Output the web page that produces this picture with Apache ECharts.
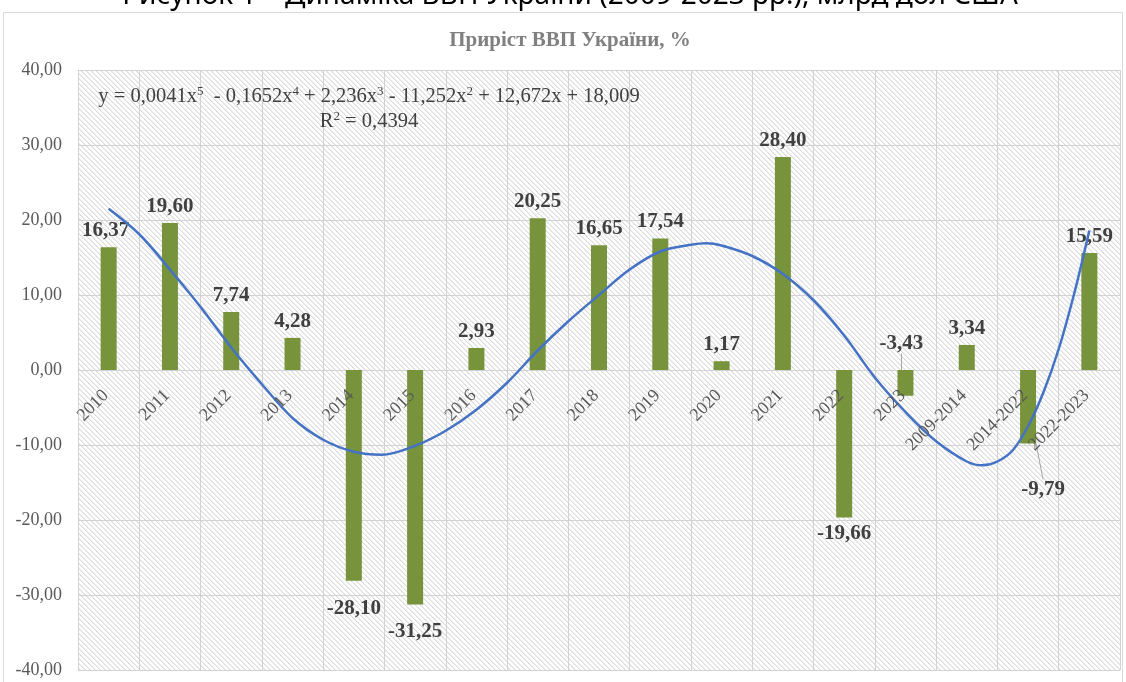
<!DOCTYPE html>
<html><head><meta charset="utf-8">
<script src="https://cdn.jsdelivr.net/npm/echarts@6/dist/echarts.min.js"></script>
<style>html,body{margin:0;padding:0;background:#fff;overflow:hidden}#c{width:1126px;height:682px}</style>
</head><body><div id="c"></div>
<script>
// ---- data ----
const categories = ['2010','2011','2012','2013','2014','2015','2016','2017','2018','2019','2020','2021','2022','2023','2009-2014','2014-2022','2022-2023'];
const growth = [16.37, 19.60, 7.74, 4.28, -28.10, -31.25, 2.93, 20.25, 16.65, 17.54, 1.17, 28.40, -19.66, -3.43, 3.34, -9.79, 15.59];
// polynomial trendline (x = category index, 0 = 2010)
const trendX = [0, 0.5, 1, 1.5, 2, 2.5, 3, 3.5, 4, 4.45, 5, 5.5, 6, 6.5, 7, 7.5, 8, 8.5, 9, 9.5, 9.75, 10, 10.5, 11, 11.5, 12, 12.5, 13, 13.5, 14, 14.25, 14.5, 14.75, 15, 15.25, 15.5, 15.75, 16];
const trendY = [21.5, 18.1, 13.4, 8.4, 3.0, -1.9, -6.4, -9.3, -10.9, -11.3, -10.1, -8.1, -5.3, -1.7, 2.6, 6.5, 10.0, 13.4, 15.8, 16.7, 16.9, 16.6, 15.2, 12.8, 9.3, 4.6, -1.0, -5.6, -9.5, -12.2, -12.7, -12.2, -10.7, -7.5, -3.0, 2.8, 10.1, 18.6];
const yMin = -40, yMax = 40, yStep = 10;
const captionText = 'Рисунок 1 – Динаміка ВВП України (2009-2023 рр.), млрд дол США';
const titleText = 'Приріст ВВП України, %';
const eqText = '{n|y = 0,0041x}{s|5}{n|  - 0,1652x}{s|4}{n| + 2,236x}{s|3}{n| - 11,252x}{s|2}{n| + 12,672x + 18,009}';
const r2Text = '{n|R}{s|2}{n| = 0,4394}';

// ---- label adjustments (style only) ----
const labelDistance = {'2014': 17, '2015': 17};
const labelMoves = {'2010': [-3, 0], '2023': [-4, -69], '2014-2022': [15, 30]};
const leaderLines = {'2023': true, '2014-2022': true};

const fmt = v => v.toFixed(2).replace('.', ',');
const SERIF = "'Liberation Serif', 'Times New Roman', serif";
const GRIDLINE = '#d2d2d2';

// layout
const GRID = {left: 78, right: 6, top: 70, bottom: 12};
const plotH = 682 - GRID.top - GRID.bottom;
// put the category axis on the zero line of the value axis
const zeroOffset = -plotH * (0 - yMin) / (yMax - yMin);

// hatch pattern
const tile = document.createElement('canvas');
tile.width = 10; tile.height = 10;
(function(){
  const ctx = tile.getContext('2d');
  const img = ctx.createImageData(10, 10);
  for (let y = 0; y < 10; y++) for (let x = 0; x < 10; x++) {
    const d = (((x - y) % 5) + 5) % 5;
    const g = d === 0 ? 220 : (d === 1 ? 237 : 255);
    const k = (y * 10 + x) * 4;
    img.data[k] = g; img.data[k+1] = g; img.data[k+2] = g; img.data[k+3] = 255;
  }
  ctx.putImageData(img, 0, 0);
})();

const chart = echarts.init(document.getElementById('c'), null, {renderer: 'canvas'});
const barData = growth.map((v, i) => {
  const c = categories[i];
  const item = {
    value: v,
    label: {position: v >= 0 ? 'top' : 'bottom', distance: labelDistance[c] || 6}
  };
  if (leaderLines[c]) item.labelLine = {show: true, lineStyle: {color: '#a6a6a6', width: 1}};
  return item;
});

const gridBox = Object.assign({containLabel: false, outerBoundsMode: 'none'}, GRID);

chart.setOption({
  animation: false,
  backgroundColor: '#ffffff',
  grid: [
    Object.assign({show: true, borderWidth: 0, backgroundColor: {image: tile, repeat: 'repeat'}}, gridBox),
    Object.assign({show: false}, gridBox)
  ],
  xAxis: [{
    // category axis: zero line + vertical gridlines
    type: 'category', data: categories, gridIndex: 0, position: 'bottom', offset: zeroOffset,
    axisLine: {onZero: false, lineStyle: {color: GRIDLINE, width: 1}},
    axisTick: {show: false, interval: 0},
    splitLine: {show: true, interval: 0, lineStyle: {color: GRIDLINE, width: 1}},
    axisLabel: {show: false, interval: 0}
  }, {
    type: 'value', gridIndex: 1, position: 'top', min: -0.5, max: 16.5, show: false
  }, {
    // category labels, drawn above the bars
    type: 'category', data: categories, gridIndex: 1, position: 'bottom', offset: zeroOffset, zlevel: 1,
    axisLine: {show: false, onZero: false}, axisTick: {show: false}, splitLine: {show: false},
    axisLabel: {interval: 0, rotate: 45, margin: 20, padding: [0, 4, 0, 0],
                fontFamily: SERIF, fontSize: 18, color: '#595959'}
  }],
  yAxis: [{
    type: 'value', gridIndex: 0, min: yMin, max: yMax, interval: yStep,
    axisLine: {show: false, onZero: false}, axisTick: {show: false},
    splitLine: {lineStyle: {color: GRIDLINE, width: 1}},
    axisLabel: {formatter: v => fmt(v), margin: 16, fontFamily: SERIF, fontSize: 18, color: '#595959'}
  }, {
    type: 'value', gridIndex: 1, min: yMin, max: yMax, interval: yStep, show: false
  }],
  series: [{
    type: 'bar', data: barData, barWidth: 16, z: 2, xAxisIndex: 0, yAxisIndex: 0,
    itemStyle: {color: '#77933C'},
    label: {show: true, formatter: p => fmt(p.value), fontFamily: SERIF, fontWeight: 'bold', fontSize: 21, color: '#404040'},
    labelLine: {show: false},
    labelLayout: function (params) {
      const m = labelMoves[categories[params.dataIndex]];
      return m ? {dx: m[0], dy: m[1]} : {};
    }
  }, {
    type: 'line', xAxisIndex: 1, yAxisIndex: 1, z: 6, smooth: 0.35, symbol: 'none',
    data: trendX.map((x, i) => [x, trendY[i]]),
    lineStyle: {color: '#4472C4', width: 2.5}
  }],
  graphic: [
    {type: 'rect', z: -10, silent: true, shape: {x: 3.5, y: 12.5, width: 1119, height: 700},
     style: {fill: 'none', stroke: '#d9d9d9', lineWidth: 1}},
    {type: 'text', z: 10, silent: true, x: 570, y: 10,
     style: {text: captionText, fontFamily: "'Noto Sans', 'Open Sans', sans-serif", fontSize: 28, fill: '#000000',
             textAlign: 'center', textVerticalAlign: 'bottom'}},
    {type: 'text', z: 10, silent: true, x: 570, y: 41,
     style: {text: titleText, fontFamily: SERIF, fontWeight: 'bold', fontSize: 21, fill: '#808080',
             textAlign: 'center', textVerticalAlign: 'middle'}},
    {type: 'text', z: 10, silent: true, x: 369, y: 97,
     style: {text: eqText, textAlign: 'center', textVerticalAlign: 'middle',
             rich: {n: {fontFamily: SERIF, fontSize: 20.5, fill: '#404040', lineHeight: 24},
                    s: {fontFamily: SERIF, fontSize: 13, fill: '#404040', lineHeight: 13, verticalAlign: 'top'}}}},
    {type: 'text', z: 10, silent: true, x: 369, y: 122,
     style: {text: r2Text, textAlign: 'center', textVerticalAlign: 'middle',
             rich: {n: {fontFamily: SERIF, fontSize: 20.5, fill: '#404040', lineHeight: 24},
                    s: {fontFamily: SERIF, fontSize: 13, fill: '#404040', lineHeight: 13, verticalAlign: 'top'}}}}
  ]
});
</script></body></html>
